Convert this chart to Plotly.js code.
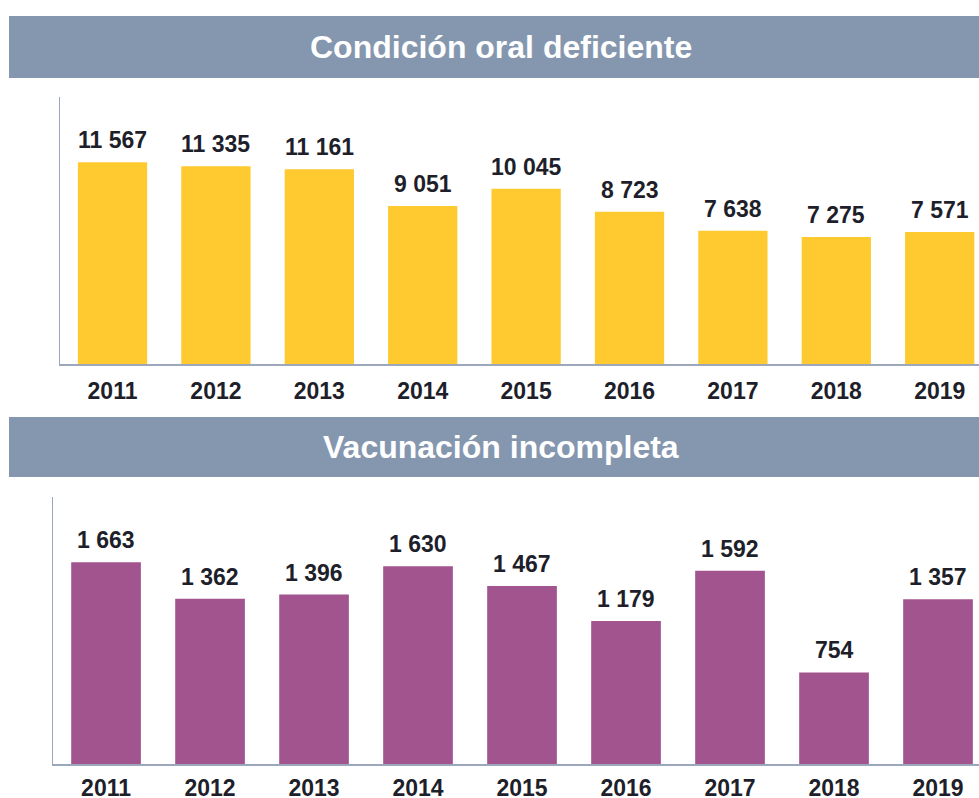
<!DOCTYPE html>
<html>
<head>
<meta charset="utf-8">
<script src="https://cdn.plot.ly/plotly-3.0.1.min.js"></script>
<style>
  html, body { margin: 0; padding: 0; background: #fff; }
  #chart { width: 979px; height: 798px; }
</style>
</head>
<body>
<div id="chart"></div>
<script>
// ─────────────────────────────
// DATOS
// ─────────────────────────────
const anios = ['2011', '2012', '2013', '2014', '2015', '2016', '2017', '2018', '2019'];
const condicionOral = [11567, 11335, 11161, 9051, 10045, 8723, 7638, 7275, 7571];
const vacunacion = [1663, 1362, 1396, 1630, 1467, 1179, 1592, 754, 1357];

const tituloArriba = 'Condición oral deficiente';
const tituloAbajo = 'Vacunación incompleta';


// ─────────────────────────────
// ESTILO
// ─────────────────────────────
const W = 979, H = 798;
const py = px => 1 - px / H;   // pixel vertical -> paper
const pxX = px => px / W;      // pixel horizontal -> paper

const colorCabecera = '#8597AF';
const colorAmarillo = '#FFC930';
const colorMorado = '#A2548E';
const colorEje = '#9AA7BC';
const colorTexto = '#1E1F2B';
const fuente = 'Liberation Sans, Arial, sans-serif';

const fmt = v => String(v).replace(/\B(?=(\d{3})+(?!\d))/g, ' ');


// ─────────────────────────────
// TRAZAS
// ─────────────────────────────
const traces = [
  {
    type: 'bar',
    x: anios,
    y: condicionOral,
    marker: { color: colorAmarillo },
    xaxis: 'x',
    yaxis: 'y',
    hoverinfo: 'skip'
  },
  {
    type: 'bar',
    x: anios,
    y: vacunacion,
    marker: { color: colorMorado },
    xaxis: 'x2',
    yaxis: 'y2',
    hoverinfo: 'skip'
  }
];

// etiquetas de valor sobre cada barra
const etiquetas = (valores, xa, ya) => valores.map((v, i) => ({
  x: i,
  y: v,
  xref: xa,
  yref: ya,
  text: '<b>' + fmt(v) + '</b>',
  showarrow: false,
  xanchor: 'center',
  yanchor: 'bottom',
  yshift: 7,
  font: { family: fuente, size: 23, color: colorTexto }
}));

const cabecera = (y0, y1) => ({
  type: 'rect',
  xref: 'paper', yref: 'paper',
  x0: pxX(9), x1: 1,
  y0: py(y1), y1: py(y0),
  fillcolor: colorCabecera,
  line: { width: 0 },
  layer: 'below'
});

const titulo = (texto, yc) => ({
  xref: 'paper', yref: 'paper',
  x: pxX(501), y: py(yc),
  xanchor: 'center', yanchor: 'middle',
  text: '<b>' + texto + '</b>',
  showarrow: false,
  font: { family: fuente, size: 32, color: '#ffffff' }
});

const ejeX = (dominio, rango, ancla, separacion) => ({
  domain: dominio,
  range: rango,
  anchor: ancla,
  type: 'category',
  showline: true,
  linecolor: colorEje,
  linewidth: 1.5,
  ticks: '',
  ticklabelstandoff: separacion,
  tickfont: { family: fuente, size: 23, color: colorTexto, weight: 'bold' },
  showgrid: false,
  zeroline: false,
  fixedrange: true
});

const ejeY = (dominio, rango, ancla) => ({
  domain: dominio,
  range: rango,
  anchor: ancla,
  showline: true,
  linecolor: colorEje,
  linewidth: 1.5,
  showticklabels: false,
  ticks: '',
  showgrid: false,
  zeroline: false,
  fixedrange: true
});

const layout = {
  width: W,
  height: H,
  margin: { l: 0, r: 0, t: 0, b: 0 },
  paper_bgcolor: '#ffffff',
  plot_bgcolor: '#ffffff',
  showlegend: false,
  bargap: 0.33,
  xaxis: ejeX([pxX(60), 1], [-0.508, 8.38], 'y', 6),
  yaxis: ejeY([py(364), py(97)], [0, 15300], 'x'),
  xaxis2: ejeX([pxX(53), 1], [-0.51, 8.394], 'y2', 3),
  yaxis2: ejeY([py(764), py(497)], [0, 2200], 'x2'),
  shapes: [cabecera(16, 78), cabecera(417, 477)],
  annotations: [
    titulo(tituloArriba, 47),
    titulo(tituloAbajo, 447),
    ...etiquetas(condicionOral, 'x', 'y'),
    ...etiquetas(vacunacion, 'x2', 'y2')
  ]
};

Plotly.newPlot('chart', traces, layout, { displayModeBar: false, staticPlot: true });
</script>
</body>
</html>
